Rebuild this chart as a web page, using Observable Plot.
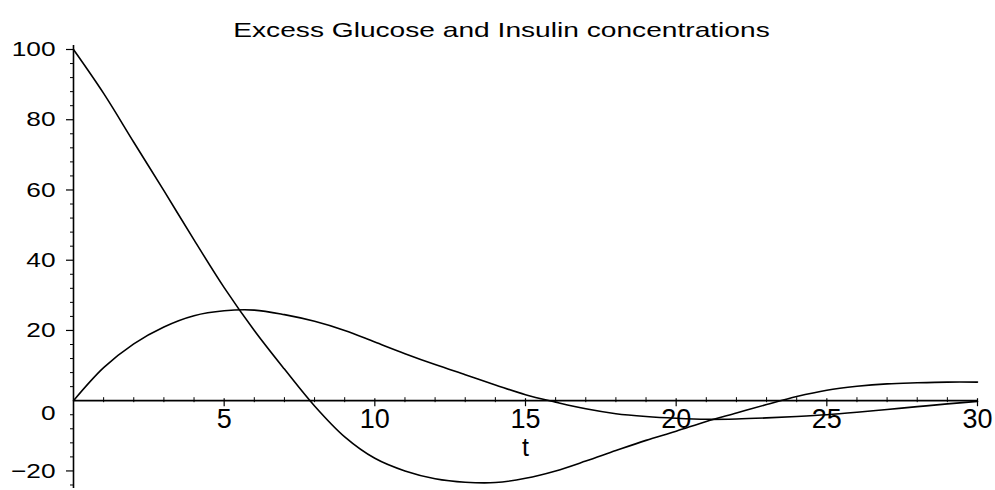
<!DOCTYPE html>
<html><head><meta charset="utf-8">
<script src="https://cdn.jsdelivr.net/npm/d3@7"></script>
<script src="https://cdn.jsdelivr.net/npm/@observablehq/plot@0.6"></script>
<style>body{margin:0;background:#fff} svg{display:block}</style>
</head><body><div id="chart"></div>
<script>
const title = "Excess Glucose and Insulin concentrations";
const xLabel = "t";
const t = [0,1,2,3,4,5,6,7,8,9,10,11,12,13,14,15,16,17,18,19,20,21,22,23,24,25,26,27,28,29,30];
const glucose = [100,87.5,73.6,59.8,45.8,32.2,20,9,-1.5,-10.3,-16.4,-20,-22.2,-23.2,-23.3,-22.1,-20,-17.2,-14.2,-11.3,-8.7,-5.9,-3.5,-1.1,1.2,3,4.1,4.8,5.1,5.3,5.3];
const insulin = [0,9.4,16.2,21,24.2,25.6,25.8,24.5,22.6,20,16.7,13.4,10.3,7.4,4.5,1.7,-0.4,-2.3,-3.7,-4.5,-5,-5.3,-5.2,-4.9,-4.5,-4,-3.3,-2.5,-1.7,-0.9,-0.2];
const xMajor = [5,10,15,20,25,30];
const xMinor = [1,2,3,4,6,7,8,9,11,12,13,14,16,17,18,19,21,22,23,24,26,27,28,29];
const yMajor = [-20,20,40,60,80,100];
const yLabels = ["−20","20","40","60","80","100"];
const yZero = [0];
const yZeroLabel = ["0"];
const yMinor = [-24,-16,-12,-8,-4,4,8,12,16,24,28,32,36,44,48,52,56,64,68,72,76,84,88,92,96];

const rows = t.map((ti, i) => ({t: ti, glucose: glucose[i], insulin: insulin[i]}));
const yTicks = yMajor.map((v, i) => ({v, label: yLabels[i]}));

const chart = Plot.plot({
  width: 995, height: 490,
  marginLeft: 73, marginRight: 18, marginTop: 49, marginBottom: 2,
  x: {domain: [0, 30], axis: null},
  y: {domain: [-25, 100], axis: null},
  style: {fontFamily: "'Liberation Sans', Arial, sans-serif", background: "white", color: "black"},
  marks: [
    Plot.ruleX([0], {stroke: "black", strokeWidth: 1.6, insetTop: -4}),
    Plot.ruleY([0], {stroke: "black", strokeWidth: 1.8}),
    Plot.ruleY(yMajor, {y: d => d, x1: 0, x2: 0, insetLeft: -7, stroke: "black", strokeWidth: 1.2}),
    Plot.ruleY(yMinor, {y: d => d, x1: 0, x2: 0, insetLeft: -3, stroke: "black", strokeWidth: 1}),
    Plot.ruleX(xMajor, {x: d => d, y1: 0, y2: 0, insetTop: -2, insetBottom: -6, stroke: "black", strokeWidth: 1.2}),
    Plot.ruleX(xMinor, {x: d => d, y1: 0, y2: 0, insetTop: -3, insetBottom: -2, stroke: "black", strokeWidth: 1}),
    Plot.line(rows, {x: "t", y: "glucose", stroke: "black", strokeWidth: 1.6, curve: "catmull-rom"}),
    Plot.line(rows, {x: "t", y: "insulin", stroke: "black", strokeWidth: 1.6, curve: "catmull-rom"}),
    Plot.text(xMajor, {x: d => d, y: 0, dy: 19, text: d => String(d), fontSize: 27, fill: "black"}),
    Plot.text(yTicks, {x: 0, y: "v", text: "label", dx: -18, textAnchor: "end", fontSize: 21, fill: "black", className: "stretchY"}),
    Plot.text(yZero, {x: 0, y: d => d, text: yZeroLabel, dx: -18, dy: 13, textAnchor: "end", fontSize: 21, fill: "black", className: "stretchY"}),
    Plot.text([xLabel], {x: xMajor[2], y: 0, dy: 47, text: d => d, fontSize: 25, fill: "black"}),
    Plot.text([title], {frameAnchor: "top", dx: -24, dy: -27, text: d => d, fontSize: 21, fill: "black", className: "stretchT"})
  ]
});
document.getElementById("chart").appendChild(chart);

function stretch(sel, f) {
  chart.querySelectorAll(sel + " text").forEach(el => {
    const len = el.getComputedTextLength();
    el.setAttribute("textLength", (len * f).toFixed(1));
    el.setAttribute("lengthAdjust", "spacingAndGlyphs");
  });
}
stretch(".stretchY", 1.25);
stretch(".stretchT", 1.34);
</script>
</body></html>
